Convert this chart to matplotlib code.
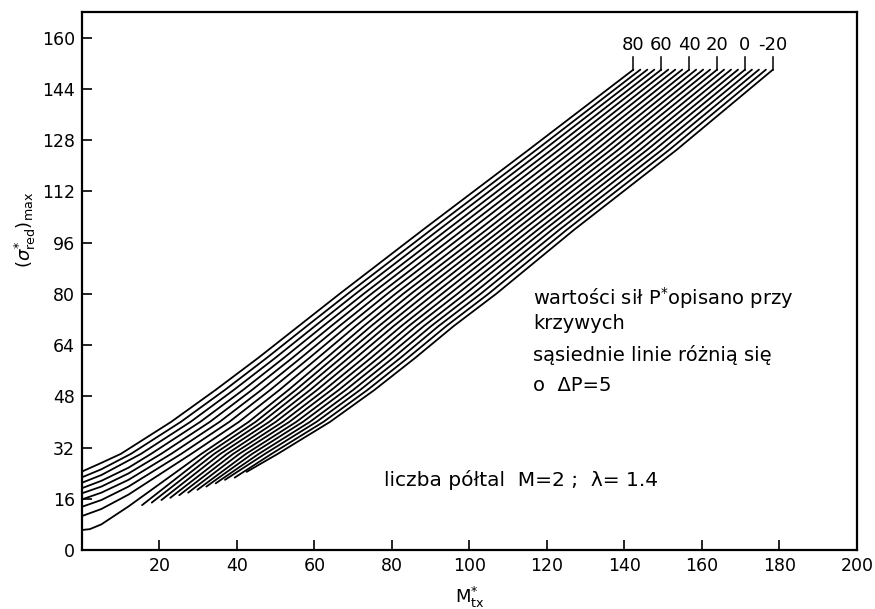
import matplotlib
matplotlib.use("Agg")
import matplotlib.pyplot as plt

plt.rcParams['font.family'] = ['DejaVu Sans']
plt.rcParams['mathtext.fontset'] = 'dejavusans'

# force P of each curve (adjacent lines differ by 5)
P_values = [80, 75, 70, 65, 60, 55, 50, 45, 40, 35, 30, 25, 20, 15, 10, 5, 0, -5, -10, -15, -20]

# start of each curve (M, sigma): upper ones at M=0, the rest on the lower-left edge
start_M = [0, 0, 0, 0, 0, 0, 0, 0, 0, 15.5, 18.0, 20.5, 22.8, 25.1, 27.4, 29.8, 32.1, 34.5, 36.9, 39.4, 42.5]
start_y = [24.5, 22.7, 21.0, 19.3, 17.7, 15.8, 13.5, 10.6, 6.25, 14.0, 14.8, 15.6, 16.3, 17.1, 17.9, 18.8, 19.8, 20.8, 21.9, 22.6, 24.4]

# sigma read near the y axis at M = 2, 5, 12 (None = curve not there / not needed)
N = None
y_at_M2 = [N, N, N, N, N, N, N, N, 6.5] + [N] * 12
y_at_M5 = [27.2, 25.2, 23.4, 21.6, 19.8, 17.9, 15.6, 12.8, 8.0] + [N] * 12
y_at_M12 = [N, N, N, 25.7, 23.9, 21.9, 19.8, 17.3, 13.6] + [N] * 12

# M read where each curve crosses fixed sigma levels
levels = [30, 40, 50, 60, 70, 80, 100, 125, 150]
M_30 = [10.0, 12.6, 15.2, 17.8, 20.4, 23.0, 25.6, 28.2, 30.8, 32.4, 34.1, 35.7, 37.4, 39.0, 40.6, 42.3, 43.9, 45.6, 47.2, 48.9, 50.5]
M_40 = [23.0, 25.5, 28.0, 30.5, 33.0, 35.5, 38.0, 40.5, 43.0, 44.8, 46.5, 48.3, 50.0, 51.8, 53.5, 55.3, 57.0, 58.8, 60.5, 62.3, 64.0]
M_50 = [34.5, 36.9, 39.2, 41.6, 43.9, 46.3, 48.6, 51.0, 53.3, 55.2, 57.0, 58.9, 60.7, 62.6, 64.4, 66.3, 68.1, 70.0, 71.8, 73.7, 75.5]
M_60 = [45.5, 47.7, 49.9, 52.1, 54.3, 56.5, 58.7, 60.9, 63.1, 65.0, 66.9, 68.8, 70.7, 72.7, 74.6, 76.5, 78.4, 80.3, 82.2, 84.1, 86.0]
M_70 = [56.0, 58.1, 60.2, 62.3, 64.4, 66.5, 68.6, 70.7, 72.8, 74.7, 76.7, 78.6, 80.5, 82.5, 84.4, 86.3, 88.3, 90.2, 92.1, 94.1, 96.0]
M_80 = [66.5, 68.6, 70.6, 72.7, 74.7, 76.8, 78.8, 80.9, 82.9, 84.9, 86.9, 88.9, 90.9, 92.9, 94.9, 96.9, 98.9, 100.9, 102.9, 104.9, 106.9]
M_100 = [88.0, 90.1, 92.1, 94.2, 96.2, 98.3, 100.3, 102.4, 104.4, 106.3, 108.2, 110.0, 111.9, 113.8, 115.7, 117.6, 119.4, 121.3, 123.2, 125.1, 127.0]
M_125 = [115.3, 117.3, 119.2, 121.2, 123.1, 125.1, 127.0, 129.0, 130.9, 132.8, 134.7, 136.5, 138.4, 140.3, 142.2, 144.1, 145.9, 147.8, 149.7, 151.6, 153.5]
M_150 = [142.3, 144.1, 145.9, 147.7, 149.5, 151.3, 153.1, 154.9, 156.7, 158.5, 160.3, 162.1, 163.9, 165.7, 167.5, 169.3, 171.1, 172.9, 174.7, 176.5, 178.3]
level_M = [M_30, M_40, M_50, M_60, M_70, M_80, M_100, M_125, M_150]

labelled_P = [80, 60, 40, 20, 0, -20]

x_ticks = [20, 40, 60, 80, 100, 120, 140, 160, 180, 200]
y_ticks = [0, 16, 32, 48, 64, 80, 96, 112, 128, 144, 160]

fig = plt.figure(figsize=(8.75, 6.09), dpi=100)
ax = fig.add_axes([0.0937, 0.0969, 0.8857, 0.8834])

for i in range(len(P_values)):
	xs = [start_M[i]]
	ys = [start_y[i]]
	for m, col in ((2, y_at_M2), (5, y_at_M5), (12, y_at_M12)):
		if col[i] is not None:
			xs.append(m); ys.append(col[i])
	for lvl, arr in zip(levels, level_M):
		if lvl > ys[-1] and arr[i] > xs[-1]:
			xs.append(arr[i]); ys.append(lvl)
	ax.plot(xs, ys, color='k', lw=1.3, solid_capstyle='round', solid_joinstyle='round')

# labels of the curves at their upper ends
for P in labelled_P:
	i = P_values.index(P)
	x = M_150[i]
	ax.plot([x, x], [150, 154], color='k', lw=1.1)
	ax.text(x, 154.8, str(P), ha='center', va='bottom', fontsize=13)

ax.set_xlim(0, 200)
ax.set_ylim(0, 168)
ax.set_xticks(x_ticks)
ax.set_yticks(y_ticks)
ax.tick_params(direction='in', length=7, width=1.2, labelsize=12.5, pad=5)
for s in ax.spines.values():
	s.set_linewidth(1.6)

ax.text(116.5, 78.6, "wartości sił P$^{*}$opisano przy", fontsize=14, va='center')
ax.text(116.5, 70.6, "krzywych", fontsize=14, va='center')
ax.text(116.5, 60.8, "sąsiednie linie różnią się", fontsize=14, va='center')
ax.text(116.5, 51.5, "o  ΔP=5", fontsize=14, va='center')
ax.text(78, 22, "liczba półtal  M=2 ;  λ= 1.4", fontsize=14.5, va='center')

fig.text(25/875, 1-230/609, r"$(\sigma^{*}_{\mathrm{red}})_{\mathrm{max}}$", rotation=90, fontsize=13, ha='center', va='center')
fig.text(470/875, 1-597/609, r"$\mathrm{M}^{*}_{\mathrm{tx}}$", fontsize=13, ha='center', va='center')

fig.savefig("out.png", dpi=100)
